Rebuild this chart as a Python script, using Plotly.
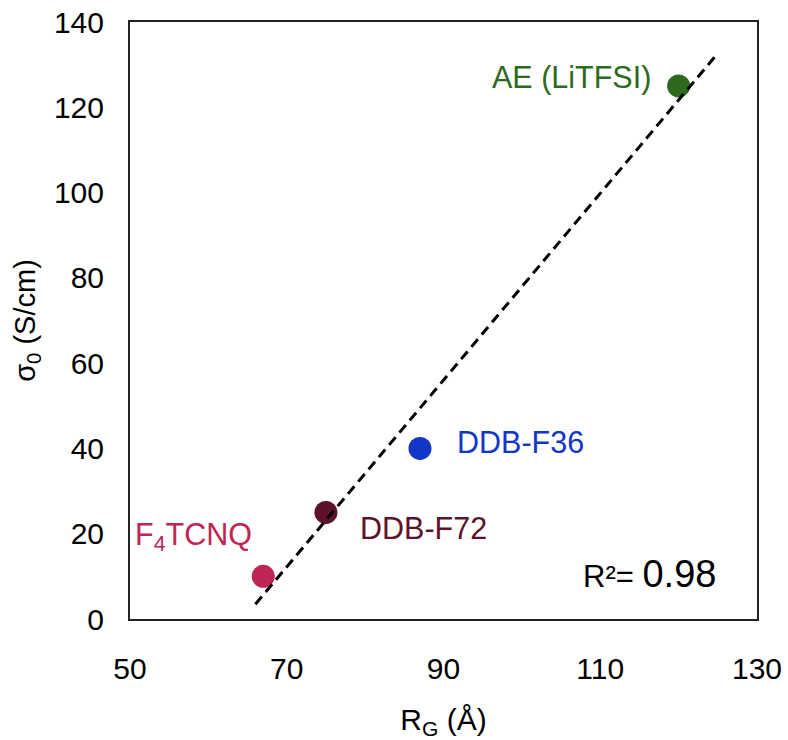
import numpy as np
import plotly.graph_objects as go

# Radius of gyration (Å) vs. zero-field conductivity (S/cm) for each dopant
names = ["F<sub>4</sub>TCNQ", "DDB-F72", "DDB-F36", "AE (LiTFSI)"]
rg = [67, 75, 87, 120]
sigma0 = [10, 25, 40, 125]
colors = ["#BF2552", "#5C1229", "#1336C6", "#2D6A1E"]

# label placement relative to each point (pixels)
label_anchor = ["right", "left", "left", "right"]
label_dx = [-9, 32, 35, -26]
label_dy = [40, -16, 6, 8]

x_ticks = [50, 70, 90, 110, 130]
y_ticks = [0, 20, 40, 60, 80, 100, 120, 140]

FONT = "Arial, 'Liberation Sans', sans-serif"

# linear least-squares trendline, extended 1 back and 5 forward
slope, intercept = np.polyfit(rg, sigma0, 1)
pred = np.polyval([slope, intercept], rg)
ss_res = np.sum((np.array(sigma0) - pred) ** 2)
ss_tot = np.sum((np.array(sigma0) - np.mean(sigma0)) ** 2)
r2 = 1 - ss_res / ss_tot
x_fit = np.array([min(rg) - 1, max(rg) + 5])
y_fit = slope * x_fit + intercept

fig = go.Figure()
fig.add_trace(go.Scatter(
    x=rg, y=sigma0, mode="markers",
    marker=dict(size=23, color=colors, line=dict(width=0)),
    showlegend=False, hoverinfo="skip",
))
fig.add_trace(go.Scatter(
    x=x_fit, y=y_fit, mode="lines",
    line=dict(color="black", width=3, dash="10px,6px"),
    showlegend=False, hoverinfo="skip",
))

for n, xv, yv, c, a, dx, dy in zip(names, rg, sigma0, colors, label_anchor, label_dx, label_dy):
    fig.add_annotation(
        x=xv, y=yv, text=n, showarrow=False,
        xanchor=a, yanchor="middle", xshift=dx, yshift=dy,
        font=dict(family=FONT, size=30.5, color=c),
    )

fig.add_annotation(
    xref="paper", yref="paper", x=0.938, y=0.0754,
    xanchor="right", yanchor="middle", showarrow=False,
    text=f"R²= <span style='font-size:38px'>{r2:.2f}</span>",
    font=dict(family=FONT, size=31, color="black"),
)

axis_common = dict(
    showgrid=False, zeroline=False, showline=True, mirror=True,
    linecolor="#222222", linewidth=2, ticks="", automargin=False,
    tickfont=dict(family=FONT, size=30, color="black"),
)

fig.update_layout(
    width=788, height=740,
    margin=dict(l=130, r=31, t=22, b=121),
    paper_bgcolor="white", plot_bgcolor="white",
    font=dict(family=FONT, color="black"),
    xaxis=dict(
        range=[50, 130], tickvals=x_ticks, ticklabelstandoff=22,
        title=dict(text="R<sub>G</sub> (Å)", standoff=30,
                   font=dict(family=FONT, size=30, color="black")),
        **axis_common,
    ),
    yaxis=dict(
        range=[0, 140], tickvals=y_ticks, ticklabelstandoff=18,
        title=dict(text="σ<sub>0</sub> (S/cm)", standoff=10,
                   font=dict(family=FONT, size=29, color="black")),
        **axis_common,
    ),
)

fig.write_html("out.html")
